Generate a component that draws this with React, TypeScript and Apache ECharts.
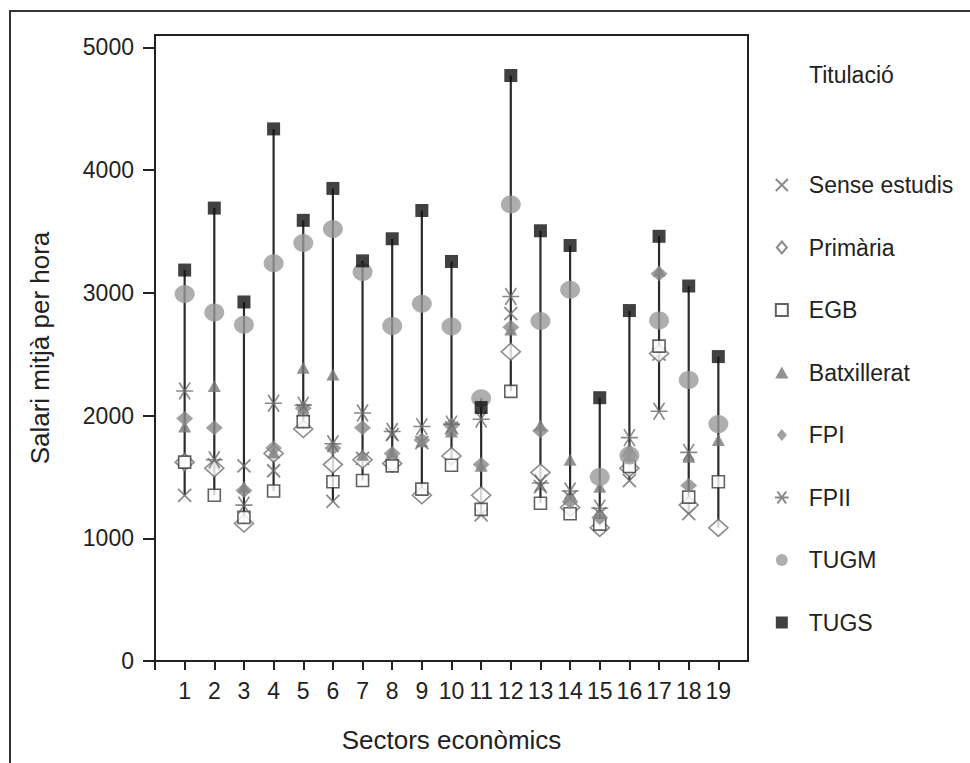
import React, { useEffect, useRef } from "react";
import * as echarts from "echarts";

const sectors = [1, 2, 3, 4, 5, 6, 7, 8, 9, 10, 11, 12, 13, 14, 15, 16, 17, 18, 19];
const seriesNames = ["Sense estudis", "Primària", "EGB", "Batxillerat", "FPI", "FPII", "TUGM", "TUGS"];

const senseEstudis = [1350, 1600, 1590, 1550, 2040, 1300, 1650, 1845, 1780, 1900, 1190, 2830, 1420, 1335, 1200, 1470, 2500, 1200, null];
const primaria = [1620, 1570, 1120, 1690, 1890, 1600, 1640, 1610, 1350, 1670, 1350, 2520, 1535, 1250, 1085, 1570, 2505, 1270, 1085];
const egb = [1620, 1350, 1170, 1385, 1950, 1460, 1470, 1590, 1400, 1595, 1235, 2197, 1285, 1200, 1115, 1585, 2565, 1335, 1460];
const batxillerat = [1910, 2240, 1420, 1700, 2390, 2335, 1680, 1700, 1790, 1870, 1590, 2700, 1920, 1640, 1420, 1735, 3180, 1665, 1800];
const fpi = [1975, 1900, 1390, 1735, 2060, 1735, 1900, 1690, 1800, 1920, 1600, 2720, 1875, 1300, 1170, 1670, 3155, 1430, null];
const fpii = [2200, 1640, 1270, 2100, 2085, 1770, 2020, 1870, 1910, 1930, 1970, 2970, 1450, 1385, 1245, 1820, 2035, 1700, null];
const tugm = [2990, 2840, 2740, 3240, 3405, 3520, 3170, 2730, 2910, 2725, 2140, 3720, 2770, 3025, 1500, 1675, 2775, 2290, 1930];
const tugs = [3185, 3690, 2925, 4335, 3590, 3850, 3260, 3440, 3670, 3255, 2065, 4770, 3505, 3385, 2145, 2855, 3460, 3055, 2480];

const yTicks = [0, 1000, 2000, 3000, 4000, 5000];

const FONT = "Liberation Sans";

export default function App() {
  const ref = useRef<HTMLDivElement>(null);
  useEffect(() => {
    if (!ref.current) return;
    const chart = echarts.init(ref.current, null, { renderer: "svg" });
    const all = [senseEstudis, primaria, egb, batxillerat, fpi, fpii, tugm, tugs];
    const ranges = sectors.map((s, i) => {
      const vals = all.map((a) => a[i]).filter((v) => v != null) as number[];
      return [s, Math.min(...vals), Math.max(...vals)];
    });
    const pts = (arr: (number | null)[]) =>
      sectors.map((s, i) => [s, arr[i]]).filter((d) => d[1] != null);

    const crossPath = "path://M0,0L10,10M10,0L0,10";
    const starPath = "path://M0,5L10,5M1.8,0.6L8.2,9.4M8.2,0.6L1.8,9.4";
    const legendIcons: Record<string, string> = {
      "Sense estudis": crossPath,
      "Primària": "path://M5,0L10,6L5,12L0,6Z",
      "EGB": "path://M0,0L10,0L10,10L0,10Z",
      "Batxillerat": "path://M5,0L10,9L0,9Z",
      "FPI": "path://M5,0L10,6L5,12L0,6Z",
      "FPII": starPath,
      "TUGM": "path://M0,5A5,5,0,1,1,10,5A5,5,0,1,1,0,5Z",
      "TUGS": "path://M0,0L10,0L10,10L0,10Z",
    };

    const scatterBase = { type: "scatter", z: 3 };
    const option: any = {
      animation: false,
      backgroundColor: "#ffffff",
      textStyle: { fontFamily: FONT },
      graphic: [
        {
          type: "rect",
          shape: { x: 10, y: 11, width: 1000, height: 800 },
          style: { fill: "none", stroke: "#333", lineWidth: 2 },
          silent: true,
        },
      ],
      title: {
        text: "Titulació",
        left: 804,
        top: 58,
        textStyle: { fontFamily: FONT, fontSize: 23, fontWeight: "normal", color: "#222" },
      },
      legend: {
        orient: "vertical",
        left: 769,
        top: 167,
        itemWidth: 44,
        itemHeight: 12,
        itemGap: 36.5,
        symbolKeepAspect: true,
        textStyle: { fontFamily: FONT, fontSize: 23, color: "#222", lineHeight: 26 },
        data: seriesNames.map((n) => ({ name: n, icon: legendIcons[n] })),
      },
      grid: {
        left: 155,
        top: 35,
        right: 222,
        bottom: 102,
        show: true,
        borderColor: "#222",
        borderWidth: 2,
        containLabel: false,
      },
      xAxis: {
        type: "value",
        min: 0,
        max: 20,
        interval: 1,
        name: "Sectors econòmics",
        nameLocation: "middle",
        nameGap: 66,
        nameTextStyle: { fontFamily: FONT, fontSize: 26, color: "#222" },
        axisLine: { show: true, onZero: false, lineStyle: { color: "#222", width: 2 } },
        axisTick: {
          show: true,
          length: 9,
          inside: false,
          customValues: [0, ...sectors],
          lineStyle: { color: "#222", width: 2 },
        },
        axisLabel: {
          customValues: sectors,
          margin: 18,
          fontFamily: FONT,
          fontSize: 23,
          color: "#222",
        },
        splitLine: { show: false },
      },
      yAxis: {
        type: "value",
        min: 0,
        max: 5100,
        interval: 1000,
        name: "Salari mitjà per hora",
        nameLocation: "middle",
        nameGap: 102,
        nameRotate: 90,
        nameTextStyle: { fontFamily: FONT, fontSize: 26, color: "#222" },
        axisLine: { show: true, onZero: false, lineStyle: { color: "#222", width: 2 } },
        axisTick: {
          show: true,
          length: 12,
          inside: false,
          customValues: yTicks,
          lineStyle: { color: "#222", width: 2 },
        },
        axisLabel: {
          customValues: yTicks,
          margin: 21,
          fontFamily: FONT,
          fontSize: 23,
          color: "#222",
          formatter: (v: number) => String(v),
        },
        splitLine: { show: false },
      },
      series: [
        {
          type: "custom",
          name: "range",
          z: 1,
          silent: true,
          data: ranges,
          encode: { x: 0, y: [1, 2] },
          renderItem: (params: any, api: any) => {
            const p1 = api.coord([api.value(0), api.value(1)]);
            const p2 = api.coord([api.value(0), api.value(2)]);
            return {
              type: "line",
              shape: { x1: p1[0], y1: p1[1], x2: p2[0], y2: p2[1] },
              style: { stroke: "#2a2a2a", lineWidth: 2.2 },
            };
          },
        },
        {
          ...scatterBase,
          name: "Sense estudis",
          symbol: crossPath,
          symbolSize: 13,
          data: pts(senseEstudis),
          itemStyle: { color: "#ffffff00", borderColor: "#6e6e6e", borderWidth: 1.8 },
        },
        {
          ...scatterBase,
          name: "Primària",
          symbol: "diamond",
          symbolSize: [19, 17],
          data: pts(primaria),
          itemStyle: { color: "#ffffff", borderColor: "#6e6e6e", borderWidth: 1.6 },
        },
        {
          ...scatterBase,
          name: "EGB",
          symbol: "rect",
          symbolSize: 12,
          data: pts(egb),
          itemStyle: { color: "#ffffff", borderColor: "#3a3a3a", borderWidth: 1.6 },
        },
        {
          ...scatterBase,
          name: "Batxillerat",
          symbol: "triangle",
          symbolSize: [13, 12],
          data: pts(batxillerat),
          itemStyle: { color: "#777777" },
        },
        {
          ...scatterBase,
          name: "FPI",
          symbol: "diamond",
          symbolSize: [17, 15],
          data: pts(fpi),
          itemStyle: { color: "#888888" },
        },
        {
          ...scatterBase,
          name: "FPII",
          symbol: starPath,
          symbolSize: 17,
          data: pts(fpii),
          itemStyle: { color: "#ffffff00", borderColor: "#6a6a6a", borderWidth: 1.6 },
        },
        {
          ...scatterBase,
          name: "TUGM",
          symbol: "circle",
          symbolSize: [20, 18],
          data: pts(tugm),
          itemStyle: { color: "#9a9a9a" },
        },
        {
          ...scatterBase,
          name: "TUGS",
          symbol: "rect",
          symbolSize: 13,
          data: pts(tugs),
          itemStyle: { color: "#111111" },
        },
      ],
    };
    chart.setOption(option);
    return () => chart.dispose();
  }, []);
  return (
    <div
      ref={ref}
      style={{ position: "fixed", left: 0, top: 0, width: 970, height: 763, background: "#fff" }}
    />
  );
}
